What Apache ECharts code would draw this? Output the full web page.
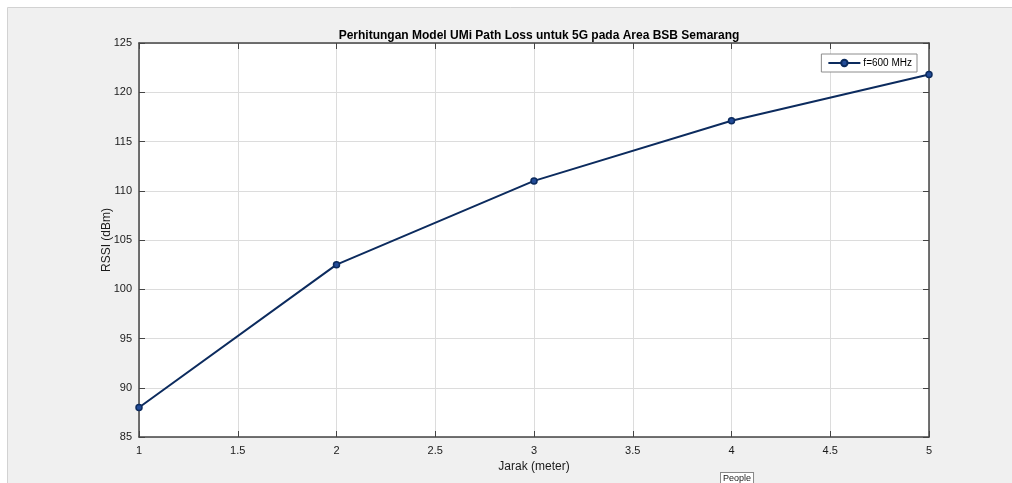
<!DOCTYPE html>
<html>
<head>
<meta charset="utf-8">
<script src="https://cdn.jsdelivr.net/npm/echarts@6/dist/echarts.min.js"></script>
<style>
html,body{margin:0;padding:0;background:#fff;}
#chart{width:1012px;height:483px;}
</style>
</head>
<body>
<div id="chart"></div>
<script>
const titleText = 'Perhitungan Model UMi Path Loss untuk 5G pada Area BSB Semarang';
const xName = 'Jarak (meter)';
const yName = 'RSSI (dBm)';
const seriesName = 'f=600 MHz';
const distances = [1, 2, 3, 4, 5];
const rssi = [88.0, 102.5, 111.0, 117.1, 121.8];

const chart = echarts.init(document.getElementById('chart'), null, {renderer: 'canvas'});
const font = 'Liberation Sans, Arial, Helvetica, sans-serif';
const axisColor = '#1a1a1a';
const navy = '#0c2b5e';

const option = {
  backgroundColor: '#ffffff',
  animation: false,
  textStyle: {fontFamily: font},
  graphic: [
    {type: 'rect', z: -10, shape: {x: 7.5, y: 7.5, width: 1010, height: 480},
     style: {fill: '#f0f0f0', stroke: '#d2d2d2', lineWidth: 1}},
    {type: 'text', left: 720, top: 472, z: 10,
     style: {text: 'People', fontSize: 9, fontFamily: font, fill: '#222',
             backgroundColor: '#fff', borderColor: '#888', borderWidth: 1, padding: [1, 2]}}
  ],
  title: {
    text: titleText,
    left: 534, top: 25, textAlign: 'center',
    textStyle: {fontSize: 12, fontWeight: 'bold', color: '#000', fontFamily: font}
  },
  legend: {
    right: 95, top: 54,
    backgroundColor: '#fff', borderColor: '#8c8c8c', borderWidth: 1,
    padding: [4, 5, 4, 6],
    itemWidth: 32, itemHeight: 8,
    textStyle: {fontSize: 10, color: '#000', fontFamily: font, padding: [0, 0, 0, -2]},
    data: [seriesName]
  },
  grid: {
    left: 139, right: 83, top: 43, bottom: 46,
    show: true, backgroundColor: '#ffffff', borderWidth: 0
  },
  xAxis: [
    {
      type: 'value', min: 1, max: 5, interval: 0.5,
      name: xName, nameLocation: 'middle', nameGap: 22,
      nameTextStyle: {fontSize: 12, color: axisColor, fontFamily: font},
      axisLine: {show: true, onZero: false, lineStyle: {color: '#444', width: 1.5}},
      axisTick: {show: true, inside: true, length: 6, lineStyle: {color: '#444'}},
      axisLabel: {fontSize: 11, color: axisColor, margin: 8, fontFamily: font},
      splitLine: {show: true, lineStyle: {color: '#dcdcdc', width: 1}}
    },
    {
      type: 'value', min: 1, max: 5, interval: 0.5, position: 'top',
      axisLine: {show: true, onZero: false, lineStyle: {color: '#444', width: 1.5}},
      axisTick: {show: true, inside: true, length: 6, lineStyle: {color: '#444'}},
      axisLabel: {show: false}, splitLine: {show: false}
    }
  ],
  yAxis: [
    {
      type: 'value', min: 85, max: 125, interval: 5,
      name: yName, nameLocation: 'middle', nameGap: 26, nameRotate: 90,
      nameMoveOverlap: false,
      nameTextStyle: {fontSize: 12, color: axisColor, fontFamily: font},
      axisLine: {show: true, onZero: false, lineStyle: {color: '#444', width: 1.5}},
      axisTick: {show: true, inside: true, length: 6, lineStyle: {color: '#444'}},
      axisLabel: {fontSize: 11, color: axisColor, margin: 7, fontFamily: font},
      splitLine: {show: true, lineStyle: {color: '#dcdcdc', width: 1}}
    },
    {
      type: 'value', min: 85, max: 125, interval: 5, position: 'right',
      axisLine: {show: true, onZero: false, lineStyle: {color: '#444', width: 1.5}},
      axisTick: {show: true, inside: true, length: 6, lineStyle: {color: '#444'}},
      axisLabel: {show: false}, splitLine: {show: false}
    }
  ],
  series: [{
    name: seriesName,
    type: 'line',
    xAxisIndex: 0, yAxisIndex: 0,
    data: distances.map((d, i) => [d, rssi[i]]),
    symbol: 'circle', symbolSize: 6,
    lineStyle: {color: navy, width: 2},
    itemStyle: {color: '#234c98', borderColor: navy, borderWidth: 1.5},
    clip: false
  }]
};
chart.setOption(option);
</script>
</body>
</html>
